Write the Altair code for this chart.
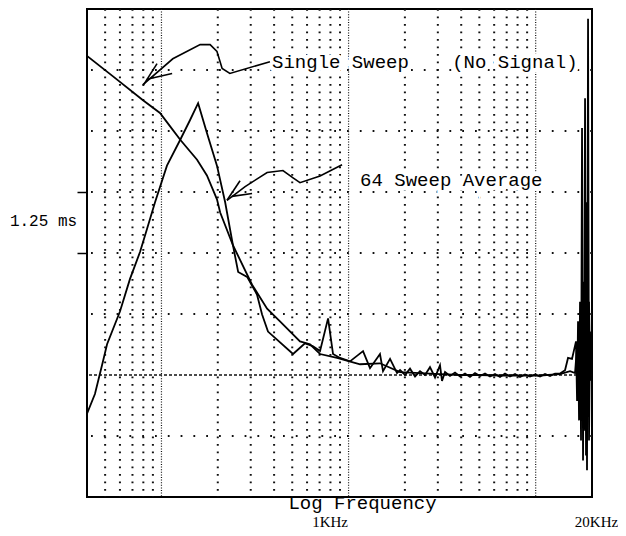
import altair as alt
import pandas as pd

# ---------------- data ----------------
single_freq = [40, 55.1, 79.7, 98.2, 111, 126, 155, 175, 198, 206,
               241, 257, 287, 324, 345, 371, 505, 585, 646, 704,
               777, 826, 900, 1018, 1195, 1302, 1472, 1528, 1666, 1816,
               1884, 2003, 2130, 2266, 2409, 2562, 2724, 2898, 3081, 3158,
               3277, 3484, 3706, 3941, 4191, 4457, 4741, 5042, 5361, 5701,
               6064, 6449, 6858, 7293, 7757, 8249, 8772, 9328, 9920, 10551,
               11220, 11932, 12689, 13495, 14352, 14890, 15640,
               16430, 16640, 16840, 17050, 17260, 17470, 17690, 17910,
               18130, 18360, 18580, 18810, 19050, 19280, 19520, 19760]
single_ms = [9.04, 8.62, 8.13, 7.87, 7.60, 7.32, 6.91, 6.59, 6.10, 5.83,
             5.16, 4.61, 4.51, 4.15, 3.74, 3.39, 2.93, 3.15, 3.09, 2.99,
             3.66, 2.93, 2.85, 2.78, 2.99, 2.64, 2.93, 2.58, 2.83, 2.54,
             2.60, 2.50, 2.63, 2.47, 2.58, 2.50, 2.66, 2.45, 2.70, 2.38,
             2.56, 2.48, 2.55, 2.47, 2.53, 2.46, 2.54, 2.48, 2.53, 2.47,
             2.52, 2.46, 2.53, 2.47, 2.52, 2.46, 2.51, 2.47, 2.51, 2.47,
             2.52, 2.48, 2.53, 2.53, 2.60, 2.85, 2.83,
             3.19, 1.97, 3.60, 1.57, 4.00, 1.16, 7.56, 0.75,
             4.41, 1.36, 6.04, 0.55, 9.80, 1.16, 3.39, 2.38]

avg_freq = [40, 44.1, 48.7, 51.2, 60.0, 67.9, 76.8, 83.7, 92.4, 107,
            126, 142, 157, 175, 198, 219, 241, 305, 367, 430,
            550, 622, 704, 868, 1152, 1472, 1884, 2409, 3081, 3941,
            5042, 6449, 8249, 10551, 13495, 15261, 16230, 16640, 16840, 17050,
            17260, 17470, 17690, 17910, 18130, 18360, 18580, 18810, 19050, 19280,
            19520]
avg_ms = [1.71, 2.11, 2.78, 3.13, 3.80, 4.47, 5.02, 5.49, 6.04, 6.79,
          7.32, 7.72, 8.07, 7.46, 6.79, 6.04, 5.16, 4.35, 3.86, 3.60,
          3.19, 3.13, 2.93, 2.85, 2.72, 2.74, 2.56, 2.54, 2.52, 2.50,
          2.50, 2.49, 2.49, 2.49, 2.52, 2.58, 2.54, 3.09, 2.07, 3.39,
          1.77, 2.99, 1.57, 3.80, 1.97, 8.17, 0.85, 3.19, 2.17, 4.00,
          2.58]

# grid
grid_minor_freq = [50, 60, 70, 80, 90, 200, 300, 400, 500, 600, 700, 800, 900,
                   2000, 3000, 4000, 5000, 6000, 7000, 8000, 9000]
grid_major_freq = [100, 1000, 10000]
grid_minor_ms = [1.25, 3.75, 5.0, 6.25, 7.5, 8.75]
grid_major_ms = [2.5]

# annotations
label_text = ["Single Sweep", "(No Signal)", "64 Sweep Average"]
label_freq = [390, 3580, 1152]
label_ms = [8.92, 8.92, 6.50]

arrow_group = ["s"] * 8 + ["s1"] * 2 + ["s2"] * 2 + ["a"] * 8 + ["a1"] * 2 + ["a2"] * 2
arrow_freq = [380, 232, 211, 198, 182, 161, 115, 79.7,
              79.7, 94.7, 83.7, 114,
              923, 704, 550, 505, 446, 367, 280, 224,
              224, 263, 238, 305]
arrow_ms = [8.92, 8.68, 8.78, 9.13, 9.27, 9.27, 8.98, 8.45,
            8.43, 8.88, 8.56, 8.68,
            6.81, 6.58, 6.44, 6.54, 6.69, 6.65, 6.36, 6.08,
            6.08, 6.48, 6.16, 6.22]

x_ticks = [1000, 20000]
y_ticks = [5.0, 6.25]

# ---------------- tables ----------------
curves = pd.concat([
    pd.DataFrame({"series": "Single Sweep", "f": single_freq, "ms": single_ms,
                  "i": range(len(single_freq))}),
    pd.DataFrame({"series": "64 Sweep Average", "f": avg_freq, "ms": avg_ms,
                  "i": range(len(avg_freq))}),
])
arrows = pd.DataFrame({"g": arrow_group, "f": arrow_freq, "ms": arrow_ms,
                       "i": range(len(arrow_group))})
labels = pd.DataFrame({"t": label_text, "f": label_freq, "ms": label_ms})

xs = alt.Scale(type="log", domain=[40, 20000], nice=False)
ys = alt.Scale(domain=[0, 10], nice=False)

x_axis = alt.Axis(
    values=x_ticks,
    labelExpr="datum.value == 1000 ? '1KHz' : '20KHz'",
    labelFont="Liberation Serif", labelFontSize=15, labelColor="black",
    labelPadding=29, labelBaseline="alphabetic",
    labelFlush=False, labelOverlap=False, labelAlign="center",
    labelOffset={"condition": {"test": "datum.value > 5000", "value": 4}, "value": -19},
    ticks=False, domain=False, grid=False,
    title="Log Frequency", titleFont="Liberation Mono", titleFontSize=19,
    titleFontWeight="normal", titleColor="black", titleX=275, titleY=5,
    titleAlign="center", titleBaseline="middle",
)
y_axis = alt.Axis(
    values=y_ticks, labels=False, ticks=True, tickSize=10, tickColor="black",
    tickWidth=1.5, domain=False, grid=False,
    title="1.25 ms", titleAngle=0, titleFont="Liberation Mono", titleFontSize=16,
    titleFontWeight="normal", titleColor="black", titleX=-44, titleY=211,
    titleAlign="center", titleBaseline="middle",
)


def X(field="f"):
    return alt.X(f"{field}:Q", scale=xs, axis=x_axis)


def Y(field="ms"):
    return alt.Y(f"{field}:Q", scale=ys, axis=y_axis)


vmin = alt.Chart(pd.DataFrame({"f": grid_minor_freq})).mark_rule(
    color="#111", strokeWidth=2, strokeDash=[1.8, 5.7]).encode(x=X())
vmaj = alt.Chart(pd.DataFrame({"f": grid_major_freq})).mark_rule(
    color="#111", strokeWidth=1.2, strokeDash=[1, 1.6]).encode(x=X())
hmin = alt.Chart(pd.DataFrame({"ms": grid_minor_ms})).mark_rule(
    color="#111", strokeWidth=2, strokeDash=[1.8, 11]).encode(y=Y())
hmaj = alt.Chart(pd.DataFrame({"ms": grid_major_ms})).mark_rule(
    color="#111", strokeWidth=1.4, strokeDash=[3, 2]).encode(y=Y())

lines = alt.Chart(curves).mark_line(color="black", strokeWidth=1.8, clip=True).encode(
    x=X(), y=Y(), detail="series:N", order="i:Q")

arr = alt.Chart(arrows).mark_line(color="black", strokeWidth=1.6).encode(
    x=X(), y=Y(), detail="g:N", order="i:Q")

txt_halo = alt.Chart(labels).mark_text(
    align="left", baseline="middle", font="Liberation Mono", fontSize=19,
    color="white", stroke="white", strokeWidth=9).encode(x=X(), y=Y(), text="t:N")

txt = alt.Chart(labels).mark_text(
    align="left", baseline="middle", font="Liberation Mono", fontSize=19,
    color="black").encode(x=X(), y=Y(), text="t:N")

chart = alt.layer(vmin, vmaj, hmin, hmaj, txt_halo, lines, arr, txt).properties(
    width=505, height=488,
    padding={"left": 79, "top": 1, "right": 26, "bottom": 31},
    autosize=alt.AutoSizeParams(type="none"),
    background="white",
).configure_view(stroke="black", strokeWidth=2)

chart.save("out.html", embed_options={"renderer": "svg", "actions": False})
